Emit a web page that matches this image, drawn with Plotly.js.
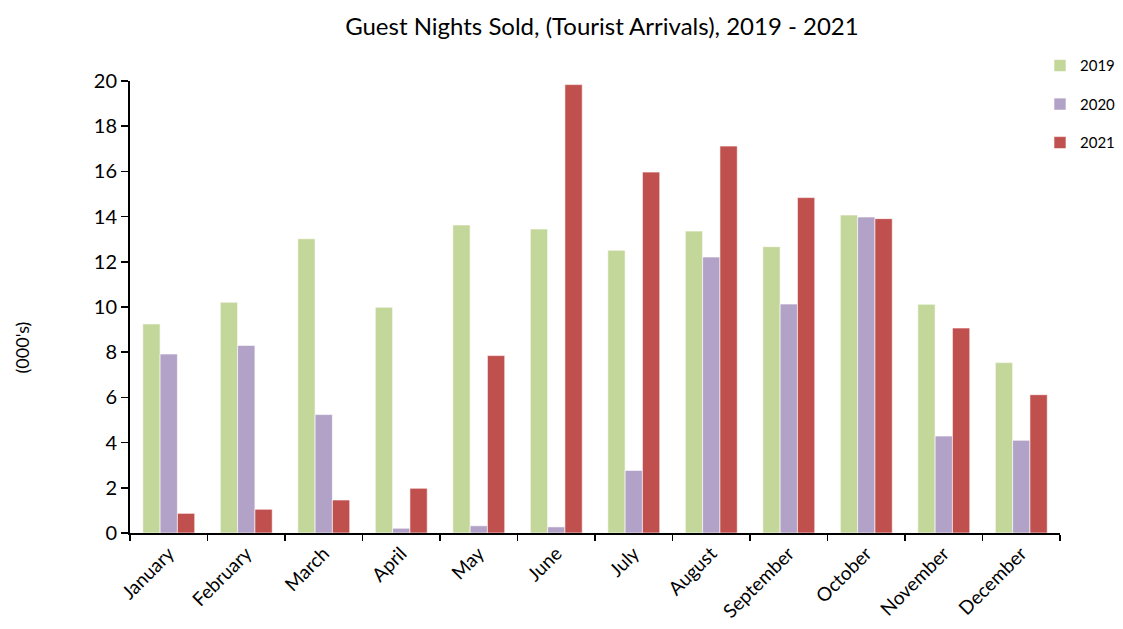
<!DOCTYPE html>
<html>
<head>
<meta charset="utf-8">
<script src="https://cdn.plot.ly/plotly-3.0.1.min.js"></script>
<style>html,body{margin:0;padding:0;background:#fff;}#chart{width:1123px;height:629px;}</style>
</head>
<body>
<div id="chart"></div>
<script>
const months = ["January","February","March","April","May","June","July","August","September","October","November","December"];
const y2019 = [9.25, 10.21, 13.02, 9.99, 13.63, 13.45, 12.51, 13.36, 12.67, 14.07, 10.12, 7.54];
const y2020 = [7.92, 8.30, 5.24, 0.21, 0.32, 0.27, 2.77, 12.21, 10.13, 13.98, 4.29, 4.10];
const y2021 = [0.87, 1.05, 1.46, 1.98, 7.85, 19.84, 15.97, 17.12, 14.84, 13.91, 9.07, 6.12];
const seriesNames = ["2019", "2020", "2021"];
const colors = ["#C4D79B", "#B3A2C7", "#C0504D"];

const font = "Lato, Open Sans, sans-serif";
const data = [y2019, y2020, y2021].map((vals, i) => ({
  type: "bar",
  name: seriesNames[i],
  x: months,
  y: vals,
  legendgroup: "g" + i,
  marker: {color: colors[i], line: {color: "rgba(255,255,255,0.6)", width: 1}}
}));

const layout = {
  width: 1123, height: 629,
  paper_bgcolor: "#fff", plot_bgcolor: "#fff",
  margin: {l: 130, r: 0, t: 81, b: 96},
  barmode: "group", bargap: 0.33, bargroupgap: 0,
  font: {family: font, color: "#000"},
  title: {text: "Guest Nights Sold, (Tourist Arrivals), 2019 - 2021", xref: "container", x: 0.536, xanchor: "center", yref: "container", y: 0.957, yanchor: "middle", font: {size: 24, family: font, color: "#000"}},
  xaxis: {
    type: "category", domain: [0, 0.9366], showgrid: false, zeroline: false,
    showline: true, linecolor: "#000", linewidth: 2,
    ticks: "outside", tickson: "boundaries", ticklen: 6, tickcolor: "#000", tickwidth: 1.5,
    tickangle: -45, tickfont: {size: 19, family: font, color: "#000"}
  },
  yaxis: {
    range: [0, 20], dtick: 2, showgrid: false, zeroline: false,
    showline: true, linecolor: "#000", linewidth: 2,
    ticks: "outside", ticklen: 7, tickcolor: "#000", tickwidth: 1.5,
    tickfont: {size: 20, family: font, color: "#000"}
  },
  legend: {
    x: 0.9164, xanchor: "left", y: 1.07, yanchor: "top",
    traceorder: "grouped", tracegroupgap: 16,
    font: {size: 15, family: font, color: "#000"},
    itemwidth: 30, bgcolor: "rgba(0,0,0,0)"
  },
  annotations: [{
    text: "(000's)", xref: "paper", yref: "paper", x: -0.109, xanchor: "center", y: 0.41, yanchor: "middle",
    showarrow: false, textangle: -90, font: {size: 18, family: font, color: "#000"}
  }]
};

Plotly.newPlot("chart", data, layout, {displayModeBar: false, staticPlot: true});
</script>
</body>
</html>
